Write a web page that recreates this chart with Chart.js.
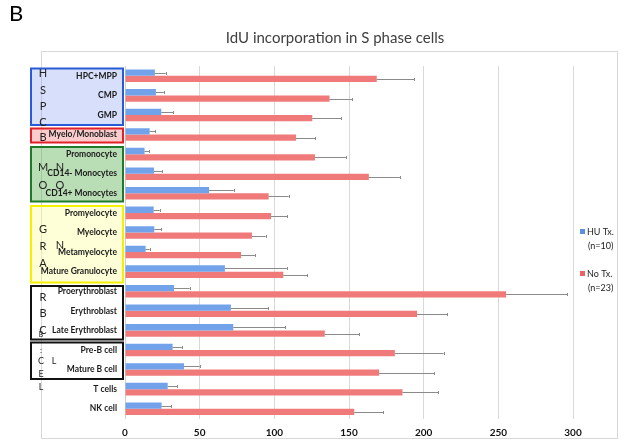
<!DOCTYPE html>
<html>
<head>
<meta charset="utf-8">
<script src="https://cdn.jsdelivr.net/npm/chart.js@4.4.1/dist/chart.umd.min.js"></script>
<style>
  html, body { margin: 0; padding: 0; background: #fff; }
  #wrap { width: 623px; height: 444px; position: relative; }
</style>
</head>
<body>
<div id="wrap"><canvas id="idu"></canvas></div>
<script>
// cell types, top to bottom
var cellTypes = ['HPC+MPP', 'CMP', 'GMP', 'Myelo/Monoblast', 'Promonocyte', 'CD14- Monocytes',
    'CD14+ Monocytes', 'Promyelocyte', 'Myelocyte', 'Metamyelocyte', 'Mature Granulocyte',
    'Proerythroblast', 'Erythroblast', 'Late Erythroblast', 'Pre-B cell', 'Mature B cell',
    'T cells', 'NK cell'];

// HU treated (n=10)
var huValues = [20.0, 20.7, 24.3, 16.5, 13.1, 19.4, 56.3, 19.2, 19.6, 13.8, 66.9, 32.8, 70.9, 72.5, 31.9, 39.5, 28.6, 24.5];
var huErrors = [7.2, 5.3, 8.0, 3.8, 3.2, 5.5, 16.5, 4.0, 4.7, 2.7, 41.5, 10.5, 25.0, 34.8, 6.2, 10.5, 6.2, 6.5];

// no treatment (n=23)
var noValues = [168.6, 137.0, 125.4, 114.5, 127.2, 163.3, 96.2, 97.8, 85.0, 77.7, 106.0, 255.2, 195.6, 133.8, 180.7, 170.2, 185.8, 153.5];
var noErrors = [24.9, 15.0, 19.4, 12.9, 20.7, 20.9, 13.4, 10.7, 9.2, 9.3, 16.2, 41.0, 20.3, 23.0, 32.6, 36.8, 23.9, 19.6];

var xTicks = [0, 50, 100, 150, 200, 250, 300];

// lineage group boxes behind the labels: [x, y, w, h, fill, stroke]
var groupBoxes = [
    [31, 68.5, 92, 56.5, 'rgba(110,140,240,0.28)', '#2a5bd7'],
    [31, 128.5, 92, 14, 'rgba(240,110,110,0.35)', '#e3202a'],
    [31, 147, 92, 54.5, 'rgba(80,170,70,0.40)', '#1f7a2a'],
    [31, 206, 92, 76.5, 'rgba(255,255,140,0.35)', '#f5f000'],
    [31, 286, 92, 53.5, null, '#111'],
    [31, 342.5, 92, 36.5, null, '#111']
];
// scattered letters inside the boxes: [text, x, y, size]
var groupLetters = [
    ['H', 43, 73, 11], ['S', 43, 90, 11], ['P', 43, 106, 11], ['C', 43, 122, 11],
    ['B', 43, 137, 11],
    ['M', 43, 167, 11], ['N', 60, 167, 11], ['O', 43, 185, 11], ['O', 60, 185, 11],
    ['G', 43, 229, 11], ['R', 43, 246, 11], ['N', 60, 245, 11], ['A', 43, 263, 11],
    ['R', 43, 297, 11], ['B', 43, 313, 11], ['C', 43, 330, 11], ['B', 41, 335, 7],
    [':', 41, 350, 8], ['C', 41, 361, 9], ['L', 54, 361, 9], ['E', 41, 374, 9], ['L', 41, 387, 9]
];

const decorPlugin = {
    id: 'decor',
    beforeDraw: (chart) => {
        const { ctx } = chart;
        ctx.save();
        // outer frame
        ctx.strokeStyle = '#d9d9d9';
        ctx.lineWidth = 1;
        ctx.strokeRect(41.5, 51.5, 576, 387);
        // group boxes
        groupBoxes.forEach(function (b) {
            if (b[4]) {
                ctx.fillStyle = b[4];
                ctx.fillRect(b[0], b[1], b[2], b[3]);
            }
            ctx.strokeStyle = b[5];
            ctx.lineWidth = 2;
            ctx.strokeRect(b[0], b[1], b[2], b[3]);
        });
        ctx.fillStyle = '#222';
        ctx.textAlign = 'center';
        ctx.textBaseline = 'middle';
        groupLetters.forEach(function (l) {
            ctx.font = l[3] + 'px Lato';
            ctx.fillText(l[0], l[1], l[2]);
        });
        // panel letter and title
        ctx.fillStyle = '#000';
        ctx.textAlign = 'left';
        ctx.font = '22px Lato';
        ctx.fillText('B', 9, 14);
        ctx.fillStyle = '#404040';
        ctx.textAlign = 'center';
        ctx.font = '15px Lato';
        ctx.fillText('IdU incorporation in S phase cells', 335, 38);
        // legend
        ctx.font = '9px Lato';
        ctx.textAlign = 'left';
        ctx.fillStyle = '#5b8fe0';
        ctx.fillRect(580, 229, 5, 5);
        ctx.fillStyle = '#ea6262';
        ctx.fillRect(580, 271, 5, 5);
        ctx.fillStyle = '#222';
        ctx.fillText('HU Tx.', 587, 232);
        ctx.fillText('(n=10)', 588, 246);
        ctx.fillText('No Tx.', 587, 274);
        ctx.fillText('(n=23)', 588, 288);
        ctx.restore();
    },
    afterDatasetsDraw: (chart) => {
        // error bars
        const { ctx } = chart;
        const xs = chart.scales.x;
        ctx.save();
        ctx.strokeStyle = '#8a8a8a';
        ctx.lineWidth = 1;
        [huErrors, noErrors].forEach(function (errs, di) {
            const meta = chart.getDatasetMeta(di);
            const vals = chart.data.datasets[di].data;
            meta.data.forEach(function (bar, i) {
                const x0 = xs.getPixelForValue(vals[i]);
                const x1 = xs.getPixelForValue(vals[i] + errs[i]);
                const y = Math.round(bar.y) + 0.5;
                ctx.beginPath();
                ctx.moveTo(x0, y);
                ctx.lineTo(x1, y);
                ctx.moveTo(Math.round(x1) + 0.5, y - 1.5);
                ctx.lineTo(Math.round(x1) + 0.5, y + 1.5);
                ctx.stroke();
            });
        });
        ctx.restore();
    }
};

var config = {
    type: 'bar',
    data: {
        labels: cellTypes,
        datasets: [
            {
                label: 'HU Tx. (n=10)',
                data: huValues,
                backgroundColor: '#72a3ea',
                borderWidth: 0,
            },
            {
                label: 'No Tx. (n=23)',
                data: noValues,
                backgroundColor: '#f07a7a',
                borderWidth: 0,
            },
        ],
    },
    plugins: [decorPlugin],
    options: {
        indexAxis: 'y',
        responsive: false,
        animation: false,
        layout: { padding: { top: 66, right: 50, bottom: 0, left: 0 } },
        datasets: {
            bar: { categoryPercentage: 0.64, barPercentage: 1.0 }
        },
        plugins: {
            legend: { display: false },
            title: { display: false },
            tooltip: { enabled: false },
        },
        scales: {
            x: {
                min: 0,
                max: 300,
                afterBuildTicks: (scale) => {
                    scale.ticks = xTicks.map(v => ({ value: v }));
                },
                afterFit: (scale) => { scale.height = 25.5; },
                grid: { color: '#d9d9d9', drawTicks: false },
                border: { display: false },
                ticks: {
                    padding: 8,
                    color: '#111',
                    font: { family: 'Lato', size: 10, weight: 'bold' },
                },
            },
            y: {
                afterFit: (scale) => { scale.width = 125; },
                grid: { display: false, drawTicks: false },
                border: { display: true, color: '#d0d0d0' },
                ticks: {
                    padding: 8,
                    color: '#1a1a1a',
                    font: { family: 'Lato', size: 8.5, weight: 'bold' },
                },
            },
        },
    },
};

var canvas = document.getElementById('idu');
canvas.width = 623;
canvas.height = 444;
let iduChart = new Chart(canvas, config);
</script>
</body>
</html>
